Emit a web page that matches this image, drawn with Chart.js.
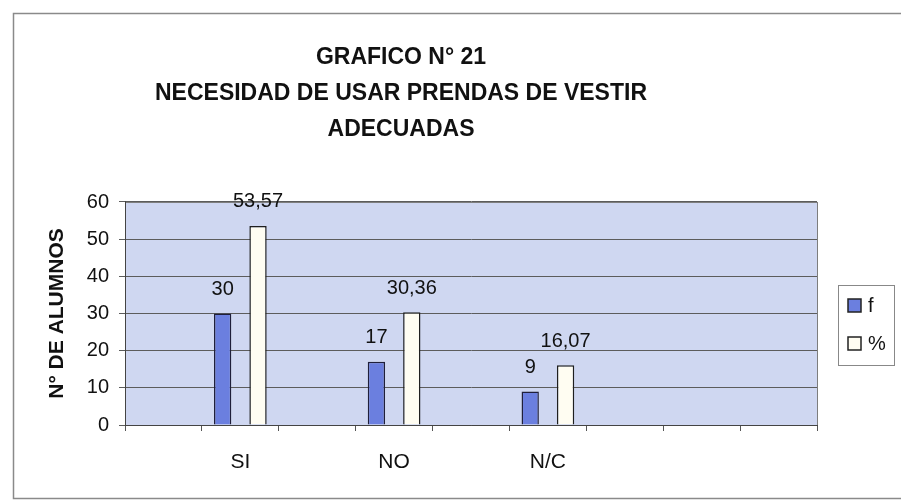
<!DOCTYPE html>
<html>
<head>
<meta charset="utf-8">
<script src="https://cdn.jsdelivr.net/npm/chart.js@4/dist/chart.umd.min.js"></script>
<style>
    html, body { margin: 0; padding: 0; background: #fff; }
    #wrap { width: 901px; height: 503px; }
</style>
</head>
<body>
<div id="wrap"><canvas id="chart" width="901" height="503"></canvas></div>
<script>
// categories (Excel left empty slots between the groups)
const categories = ['', 'SI', '', 'NO', '', 'N/C', '', '', ''];
const frecuencia = [null, 30, null, 17, null, 9, null, null, null];
const porcentaje = [null, 53.57, null, 30.36, null, 16.07, null, null, null];
const yTicks = [0, 10, 20, 30, 40, 50, 60];
const titleLines = ['GRAFICO N° 21', 'NECESIDAD DE USAR PRENDAS DE VESTIR', 'ADECUADAS'];

const sans = '"Liberation Sans", Arial, sans-serif';

const fmt = (v) => String(v).replace('.', ',');

// frame, plot background
const backdrop = {
    id: 'backdrop',
    afterLayout(chart) {
        // title in the original sits a bit left of the plot centre
        if (chart.titleBlock) {
            chart.titleBlock.left -= 30;
            chart.titleBlock.right -= 30;
        }
    },
    beforeDraw(chart) {
        const { ctx, chartArea: a } = chart;
        ctx.save();
        ctx.fillStyle = '#fff';
        ctx.fillRect(0, 0, chart.width, chart.height);
        ctx.strokeStyle = '#8a8a8a';
        ctx.lineWidth = 1.5;
        ctx.strokeRect(13.5, 13.5, chart.width + 20, 485);
        ctx.fillStyle = '#cfd7f1';
        ctx.fillRect(a.left, a.top, a.right - a.left, a.bottom - a.top);
        ctx.strokeStyle = '#7d7d7d';
        ctx.lineWidth = 1;
        ctx.strokeRect(a.left + 0.5, a.top + 0.5, a.right - a.left, a.bottom - a.top);
        ctx.restore();
    },
};

// value labels over bars + boxed legend
const extras = {
    id: 'extras',
    afterDatasetsDraw(chart) {
        const { ctx } = chart;
        ctx.save();
        ctx.font = `20px ${sans}`;
        ctx.fillStyle = '#111';
        ctx.textAlign = 'center';
        ctx.textBaseline = 'middle';
        chart.data.datasets.forEach((ds, i) => {
            chart.getDatasetMeta(i).data.forEach((bar, j) => {
                const v = ds.data[j];
                if (v === null) return;
                ctx.fillText(fmt(v), bar.x, bar.y - 24);
            });
        });

        const lx = 838, ly = 285;
        ctx.strokeStyle = '#888';
        ctx.lineWidth = 1;
        ctx.strokeRect(lx + 0.5, ly + 0.5, 56, 80);
        ctx.textAlign = 'left';
        chart.data.datasets.forEach((ds, i) => {
            const y = ly + 20 + i * 38;
            ctx.fillStyle = ds.backgroundColor;
            ctx.fillRect(lx + 10, y - 6, 13, 13);
            ctx.strokeStyle = '#222';
            ctx.lineWidth = 1.5;
            ctx.strokeRect(lx + 10, y - 6, 13, 13);
            ctx.fillStyle = '#111';
            ctx.fillText(ds.label, lx + 30, y + 1);
        });
        ctx.restore();
    },
};

new Chart(document.getElementById('chart'), {
    type: 'bar',
    data: {
        labels: categories,
        datasets: [
            {
                label: 'f',
                data: frecuencia,
                backgroundColor: '#6b7fdf',
                borderColor: '#1f1f3a',
                borderWidth: 1.5,
                categoryPercentage: 0.92,
                barPercentage: 0.49,
            },
            {
                label: '%',
                data: porcentaje,
                backgroundColor: '#fffdf2',
                borderColor: '#1f1f1f',
                borderWidth: 1.5,
                categoryPercentage: 0.92,
                barPercentage: 0.49,
            },
        ],
    },
    options: {
        responsive: false,
        animation: false,
        layout: { padding: { top: 40, left: 45, right: 84, bottom: 0 } },
        scales: {
            x: {
                grid: { drawOnChartArea: false, drawTicks: true, tickLength: 6, color: '#555', offset: true },
                border: { display: true, color: '#444', width: 1 },
                ticks: { color: '#111', padding: 19, font: { family: sans, size: 21 }, autoSkip: false, maxRotation: 0 },
                afterFit: (scale) => { scale.height = 78; },
            },
            y: {
                min: 0,
                max: 60,
                afterBuildTicks: (scale) => { scale.ticks = yTicks.map((v) => ({ value: v })); },
                grid: { color: '#5c5c5c', lineWidth: 1, tickLength: 6 },
                border: { display: true, color: '#444', width: 1 },
                ticks: { color: '#111', padding: 10, font: { family: sans, size: 20 } },
                title: {
                    display: true,
                    text: 'N° DE ALUMNOS',
                    color: '#111',
                    font: { family: sans, size: 21, weight: 'bold' },
                    padding: { top: 0, bottom: 0 },
                },
                afterFit: (scale) => { scale.width = 80; },
            },
        },
        plugins: {
            legend: { display: false },
            tooltip: { enabled: false },
            title: {
                display: true,
                text: titleLines,
                color: '#111',
                font: { family: sans, size: 23, weight: 'bold', lineHeight: 1.565 },
                padding: { top: 0, bottom: 54 },
            },
        },
    },
    plugins: [backdrop, extras],
});
</script>
</body>
</html>
